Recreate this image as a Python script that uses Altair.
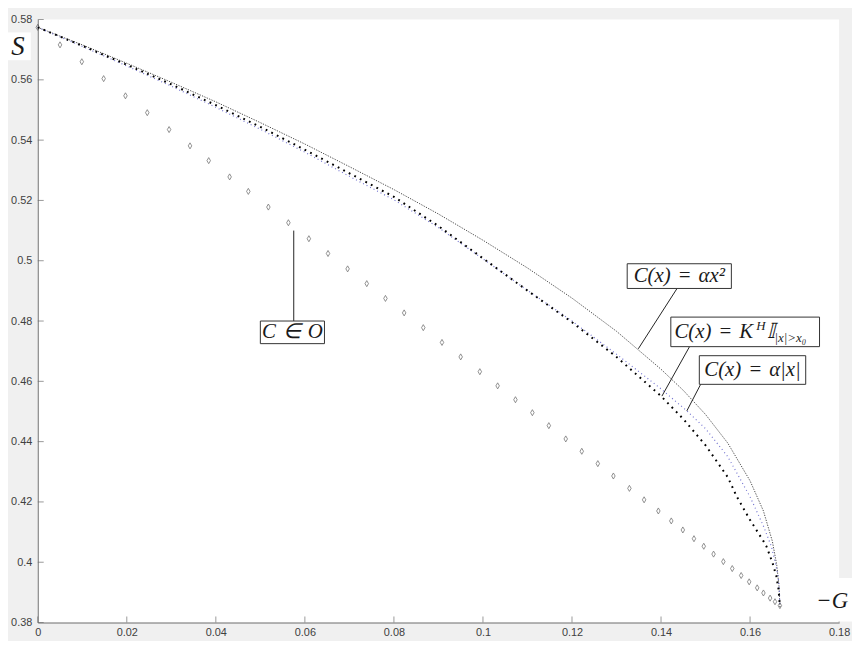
import altair as alt
import pandas as pd

# ---------------- data ----------------
# C in O  (diamond markers)
o_x = [0.0, 0.0050, 0.0099, 0.0148, 0.0197, 0.0246, 0.0295, 0.0342, 0.0384, 0.0431,
       0.0473, 0.0518, 0.0563, 0.0609, 0.0652, 0.0696, 0.0739, 0.0781, 0.0823, 0.0866,
       0.0908, 0.0950, 0.0993, 0.1033, 0.1073, 0.1111, 0.1148, 0.1186, 0.1222, 0.1258,
       0.1293, 0.1329, 0.1362, 0.1394, 0.1423, 0.1449, 0.1474, 0.1496, 0.1518, 0.1540,
       0.1560, 0.1580, 0.1598, 0.1616, 0.1630, 0.1645, 0.1656, 0.1667]
o_y = [0.5774, 0.5716, 0.5660, 0.5604, 0.5547, 0.5491, 0.5435, 0.5381, 0.5332, 0.5278,
       0.5230, 0.5178, 0.5126, 0.5073, 0.5024, 0.4973, 0.4924, 0.4875, 0.4827, 0.4778,
       0.4729, 0.4681, 0.4632, 0.4585, 0.4539, 0.4496, 0.4453, 0.4409, 0.4368, 0.4327,
       0.4286, 0.4245, 0.4207, 0.4170, 0.4137, 0.4107, 0.4078, 0.4053, 0.4027, 0.4002,
       0.3979, 0.3956, 0.3935, 0.3915, 0.3898, 0.3881, 0.3869, 0.3856]

# C(x) = alpha x^2  (upper fine dotted curve)
quad_x = [0.0, 0.010, 0.020, 0.030, 0.040, 0.050, 0.060, 0.070, 0.080, 0.090, 0.100,
          0.110, 0.120, 0.130, 0.140, 0.145, 0.150, 0.155, 0.160, 0.163, 0.165, 0.166,
          0.1665, 0.1667]
quad_y = [0.5774, 0.5716, 0.5655, 0.5592, 0.5527, 0.5458, 0.5387, 0.5312, 0.5236, 0.5155,
          0.5068, 0.4976, 0.4876, 0.4766, 0.4640, 0.4570, 0.4490, 0.4395, 0.4270, 0.4170,
          0.4070, 0.3990, 0.3920, 0.3853]

# C(x) = K^H 1_{|x|>x0}  (heavy black dotted curve)
ind_x = [0.0, 0.010, 0.020, 0.030, 0.040, 0.050, 0.060, 0.070, 0.080, 0.090, 0.100,
         0.110, 0.120, 0.130, 0.140, 0.145, 0.150, 0.155, 0.157, 0.160, 0.163, 0.1637,
         0.165, 0.1659, 0.1664, 0.1667]
ind_y = [0.5774, 0.5713, 0.5650, 0.5585, 0.5516, 0.5444, 0.5368, 0.5290, 0.5212, 0.5115,
         0.5008, 0.4901, 0.4796, 0.4681, 0.4551, 0.4475, 0.4388, 0.4282, 0.4218, 0.4140,
         0.4070, 0.4052, 0.4000, 0.3954, 0.3910, 0.3853]

# C(x) = alpha |x|  (blue dotted curve)
abs_x = [0.0, 0.010, 0.020, 0.030, 0.040, 0.050, 0.060, 0.070, 0.080, 0.090, 0.100,
         0.110, 0.120, 0.130, 0.140, 0.1458, 0.150, 0.155, 0.160, 0.163, 0.1648, 0.1658,
         0.1663, 0.1666, 0.1667]
abs_y = [0.5774, 0.5711, 0.5646, 0.5579, 0.5509, 0.5436, 0.5360, 0.5280, 0.5202, 0.5110,
         0.5006, 0.4902, 0.4800, 0.4690, 0.4575, 0.4502, 0.4443, 0.4350, 0.4217, 0.4120,
         0.4052, 0.3990, 0.3954, 0.3900, 0.3853]

x_ticks = [0, 0.02, 0.04, 0.06, 0.08, 0.1, 0.12, 0.14, 0.16, 0.18]
y_ticks = [0.38, 0.4, 0.42, 0.44, 0.46, 0.48, 0.5, 0.52, 0.54, 0.56, 0.58]

SP = "\u2004"
# annotations (text boxes with leader lines), in data units
box_label = ["C" + SP + "∈" + SP + "O", "C(x)" + SP + "=" + SP + "αx²", "",
             "C(x)" + SP + "=" + SP + "α|x|"]
box_x1 = [0.0500, 0.1324, 0.1422, 0.1486]
box_x2 = [0.0644, 0.1558, 0.1756, 0.1725]
box_y1 = [0.4800, 0.4990, 0.4813, 0.4685]
box_y2 = [0.4725, 0.4908, 0.4715, 0.4590]
line_x1 = [0.0575, 0.1436, 0.1464, 0.1489]
line_y1 = [0.5100, 0.4908, 0.4715, 0.4590]
line_x2 = [0.0575, 0.1349, 0.1402, 0.1458]
line_y2 = [0.4800, 0.4708, 0.4551, 0.4502]

# pieces of the K^H label
big_txt = ["C(x)" + SP + "=" + SP + "K", "𝕀"]
big_x = [0.1430, 0.1638]
big_y = [0.4764, 0.4764]
small_txt = ["H", "|x|>x₀"]
small_x = [0.1614, 0.1655]
small_y = [0.4784, 0.4745]

# ---------------- chart ----------------
W, H = 808, 608
AX = "#6e6e6e"
xs = alt.Scale(domain=[0, 0.18], nice=False, zero=False)
ys = alt.Scale(domain=[0.38, 0.58], nice=False, zero=False)
common_axis = dict(ticks=False, tickSize=0, domainColor=AX, domainWidth=1,
                   labelColor="#404040", labelFont="Liberation Sans", labelFontSize=11,
                   grid=False, title=None, labelFlush=False, labelOverlap=False, format="~g")
x_axis = alt.Axis(values=x_ticks, labelPadding=4, **common_axis)
y_axis = alt.Axis(values=y_ticks, labelPadding=6, **common_axis)


def X(f="x"):
    return alt.X(f"{f}:Q", scale=xs, axis=x_axis)


def Y(f="y"):
    return alt.Y(f"{f}:Q", scale=ys, axis=y_axis)


def curve(xv, yv):
    return pd.DataFrame({"x": xv, "y": yv, "i": list(range(len(xv)))})


quad = alt.Chart(curve(quad_x, quad_y)).mark_line(
    color="#3a3a3a", strokeWidth=0.9, strokeDash=[1.3, 1.3]
).encode(x=X(), y=Y(), order="i:Q")

absc = alt.Chart(curve(abs_x, abs_y)).mark_line(
    color="#7373d0", strokeWidth=1.2, strokeDash=[1, 3]
).encode(x=X(), y=Y(), order="i:Q")

ind = alt.Chart(curve(ind_x, ind_y)).mark_line(
    color="black", strokeWidth=2, strokeDash=[1.8, 4.5]
).encode(x=X(), y=Y(), order="i:Q")

dia = alt.Chart(pd.DataFrame({"x": o_x, "y": o_y})).mark_point(
    shape="M0,-1.3L0.75,0L0,1.3L-0.75,0Z", size=22, filled=False, color="#3c3c3c",
    strokeWidth=0.8
).encode(x=X(), y=Y())

xt = alt.Chart(pd.DataFrame({"v": x_ticks})).mark_tick(
    size=6, thickness=1, color=AX
).encode(x=X("v"), y=alt.value(H - 3))

yt = alt.Chart(pd.DataFrame({"v": y_ticks})).mark_tick(
    size=6, thickness=1, color=AX
).encode(y=Y("v"), x=alt.value(3))

ann = pd.DataFrame({"t": box_label, "bx1": box_x1, "bx2": box_x2, "by1": box_y1,
                    "by2": box_y2, "lx1": line_x1, "ly1": line_y1, "lx2": line_x2,
                    "ly2": line_y2})
ann["cx"] = [(a + b) / 2 for a, b in zip(box_x1, box_x2)]
ann["cy"] = [(a + b) / 2 for a, b in zip(box_y1, box_y2)]

leaders = alt.Chart(ann).mark_rule(color="#222", strokeWidth=1).encode(
    x=X("lx1"), y=Y("ly1"), x2="lx2:Q", y2="ly2:Q")
boxes = alt.Chart(ann).mark_rect(fill="white", stroke="#333", strokeWidth=1).encode(
    x=X("bx1"), x2="bx2:Q", y=Y("by1"), y2="by2:Q")
box_text = alt.Chart(ann).mark_text(
    font="Liberation Serif", fontStyle="italic", fontSize=21, color="#1a1a1a",
    align="center", baseline="middle"
).encode(x=X("cx"), y=Y("cy"), text="t:N")

kbig = alt.Chart(pd.DataFrame({"t": big_txt, "x": big_x, "y": big_y})).mark_text(
    font="Liberation Serif", fontStyle="italic", fontSize=21, color="#1a1a1a",
    align="left", baseline="middle"
).encode(x=X(), y=Y(), text="t:N")
ksmall = alt.Chart(pd.DataFrame({"t": small_txt, "x": small_x, "y": small_y})).mark_text(
    font="Liberation Serif", fontStyle="italic", fontSize=13, color="#1a1a1a",
    align="left", baseline="middle"
).encode(x=X(), y=Y(), text="t:N")

# axis name labels with white backing
s_df = pd.DataFrame({"t": ["S"]})
s_box = alt.Chart(s_df).mark_rect(fill="white").encode(
    x=alt.value(-30), x2=alt.value(-7), y=alt.value(13), y2=alt.value(41))
s_txt = alt.Chart(s_df).mark_text(
    font="Liberation Serif", fontStyle="italic", fontSize=27, color="#1a1a1a",
    align="center", baseline="middle").encode(x=alt.value(-20), y=alt.value(28), text="t:N")

g_df = pd.DataFrame({"t": ["−G"]})
g_box = alt.Chart(g_df).mark_rect(fill="white").encode(
    x=alt.value(782), x2=alt.value(830), y=alt.value(563), y2=alt.value(607))
g_txt = alt.Chart(g_df).mark_text(
    font="Liberation Serif", fontStyle="italic", fontSize=23, color="#1a1a1a",
    align="center", baseline="middle").encode(x=alt.value(801), y=alt.value(586), text="t:N")

chart = alt.layer(
    quad, absc, ind, dia, xt, yt, leaders, boxes, box_text, kbig, ksmall,
    s_box, s_txt, g_box, g_txt
).properties(
    width=W, height=H,
    padding={"left": 30, "top": 9, "right": 13, "bottom": 16},
    autosize=alt.AutoSizeParams(type="none"),
    background="#f0f0f0",
).configure_view(fill="white", stroke=None)

chart.save("out.html", embed_options={"renderer": "svg", "actions": False})
